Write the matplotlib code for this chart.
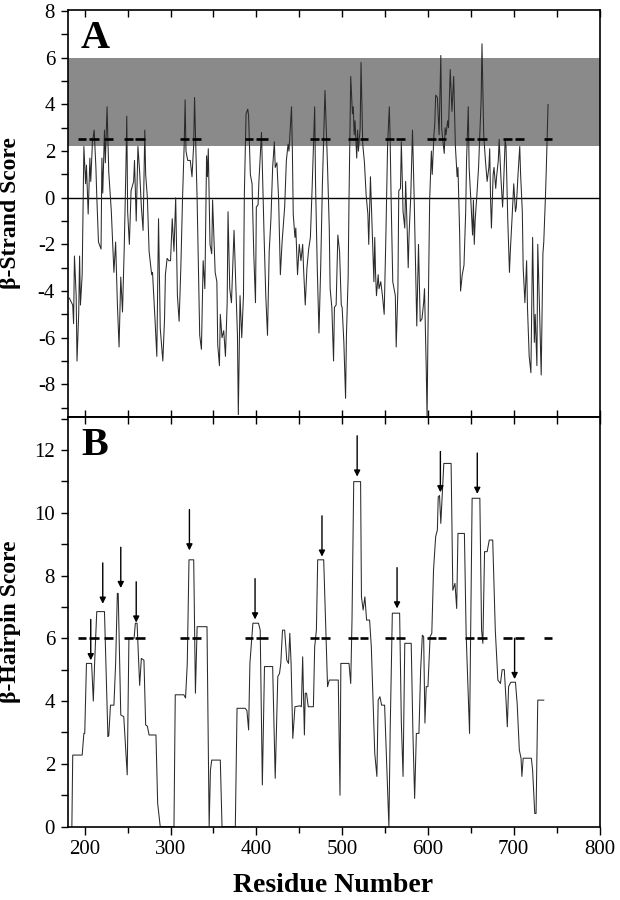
import matplotlib
matplotlib.use("Agg")
import matplotlib.pyplot as plt
from matplotlib.ticker import MultipleLocator

plt.rcParams['font.family'] = ['Liberation Serif', 'DejaVu Serif']
plt.rcParams['axes.unicode_minus'] = False

# panel A: beta-strand score per residue
strand_res = [182, 186, 187, 188, 190, 191, 193, 194, 195, 197, 199, 201, 202, 204, 206, 207, 209, 211,
              213, 214, 216, 219, 220, 221, 223, 224, 226, 228, 231, 234, 236, 238, 240, 242, 244, 246,
              248, 249, 250, 252, 254, 257, 258, 260, 262, 264, 266, 268, 270, 271, 273, 275, 278, 279,
              282, 284, 286, 288, 291, 293, 294, 296, 298, 300, 302, 304, 306, 308, 310, 312, 314, 316,
              317, 318, 320, 323, 325, 327, 328, 331, 334, 336, 338, 340, 342, 343, 344, 346, 348, 349,
              352, 354, 355, 357, 358, 360, 362, 364, 366, 367, 369, 371, 374, 376, 378, 379, 381, 383,
              385, 386, 388, 390, 391, 393, 395, 397, 399, 400, 402, 403, 406, 407, 409, 411, 413, 415,
              417, 419, 421, 422, 424, 426, 428, 430, 433, 435, 437, 438, 441, 442, 443, 445, 446, 448,
              450, 452, 454, 455, 457, 459, 461, 463, 465, 466, 468, 469, 471, 473, 475, 477, 479, 480,
              483, 485, 486, 488, 490, 491, 493, 495, 497, 499, 500, 502, 504, 505, 507, 508, 509, 510,
              512, 513, 514, 515, 517, 518, 519, 521, 522, 524, 526, 528, 530, 531, 533, 535, 537, 538,
              539, 540, 542, 543, 545, 547, 549, 551, 553, 555, 556, 557, 559, 562, 563, 565, 566, 568,
              569, 571, 573, 574, 576, 577, 578, 580, 582, 584, 586, 587, 589, 591, 593, 595, 596, 598,
              599, 600, 602, 604, 605, 607, 608, 609, 611, 613, 615, 616, 617, 619, 620, 621, 623, 624,
              626, 628, 630, 632, 634, 635, 637, 638, 640, 642, 644, 645, 647, 648, 650, 652, 653, 654,
              655, 657, 659, 660, 662, 663, 665, 667, 669, 671, 672, 673, 674, 676, 677, 679, 680, 682,
              683, 685, 687, 688, 690, 691, 693, 695, 696, 698, 700, 702, 703, 705, 707, 708, 710, 711,
              713, 715, 716, 718, 720, 722, 724, 725, 727, 728, 730, 732, 734, 735, 737, 738, 740]
strand_score = [-4.3, -4.6, -5.4, -2.5, -4.2, -7.0, -4.9, -2.5, -4.6, -3.3, 2.2, 0.6, 1.4, -0.7, 1.7, 0.7, 2.4, 2.9,
                1.3, 0.1, -1.9, -2.2, 1.7, 0.2, 2.9, 1.5, 3.9, 1.1, -0.6, -3.2, -1.9, -4.5, -6.4, -3.4, -4.9, -2.2,
                1.3, 3.5, -0.6, -2.0, 0.3, 0.7, 1.6, -1.0, 2.2, 1.1, -0.4, -1.4, 2.9, 1.0, 0.0, -2.3, -3.3, -3.2,
                -5.3, -6.8, -0.9, -5.6, -7.0, -5.2, -3.3, -2.6, -2.7, -2.7, -0.9, -2.3, 0.0, -4.2, -5.3, -3.0, 0.0, 2.4,
                4.2, 2.0, 1.6, 1.6, 0.9, 2.3, 4.3, -0.1, -5.9, -6.5, -2.7, -3.9, 1.8, 0.9, 2.1, -2.0, -2.4, -0.1,
                -3.2, -3.6, -6.3, -7.2, -5.0, -6.0, -5.7, -6.8, -4.5, -0.6, -3.9, -4.5, -1.4, -3.7, -5.9, -9.3, -4.2, -6.0,
                -4.2, 0.1, 3.6, 3.8, 3.5, 1.0, 0.6, -2.4, -4.5, -0.4, -0.3, 0.7, 2.8, 1.3, -1.6, -4.2, -5.9, -2.3,
                -0.9, 1.3, 2.4, 1.3, 1.5, -0.1, -3.3, -1.9, -0.4, 1.6, 2.3, 2.0, 3.9, 2.0, -0.7, -1.7, -1.3, -3.3,
                -2.0, -2.7, -2.0, -3.0, -4.6, -3.0, -2.2, -1.7, 0.4, 1.6, 3.9, 0.6, -3.0, -5.8, -3.0, 0.6, 3.3, 4.6,
                1.3, -1.3, -3.9, -4.7, -7.0, -4.7, -4.6, -1.6, -2.3, -4.6, -4.7, -6.2, -8.6, -5.9, -3.4, -0.1, 2.7, 5.2,
                3.6, 3.9, 2.7, 3.3, 1.7, 2.9, 2.0, 3.0, 5.8, 2.3, 1.5, 0.1, -0.7, -2.0, 0.9, -1.3, -3.6, -1.7,
                -3.3, -4.2, -3.3, -3.9, -3.6, -4.2, -5.0, -1.6, 2.3, 3.9, 2.4, 0.1, -3.6, -4.2, -6.4, -3.9, 0.3, 0.4,
                2.4, -0.6, -1.3, 0.7, -1.6, -3.0, -1.6, 0.1, 2.9, -0.1, -3.7, -5.5, -2.0, -5.3, -5.2, -4.5, -3.9, -7.3,
                -9.4, -5.9, -0.1, 2.0, 1.0, 2.7, 3.2, 4.4, 4.3, 2.7, 6.1, 3.0, 2.6, 1.9, 3.0, 2.7, 3.3, 3.0,
                5.5, 3.7, 5.2, 2.2, 0.9, 1.3, -1.6, -4.0, -3.3, -2.9, -0.6, 1.6, 3.9, 1.3, -0.1, -1.6, -0.1, -2.0,
                -1.0, 0.1, 1.3, 2.3, 4.2, 6.6, 2.7, 1.6, 0.7, 1.3, 2.1, -0.1, -1.3, 1.0, 1.3, 0.4, 0.9, 1.6,
                2.5, 0.9, -0.4, 0.4, 2.5, 2.2, -0.9, -3.2, -2.3, -0.9, 0.6, -0.6, -0.4, 1.0, 2.2, 1.0, -0.6, -3.0,
                -4.5, -2.7, -4.7, -6.8, -7.5, -1.7, -6.2, -5.0, -7.2, -2.0, -4.7, -7.6, -2.4, -1.9, 0.1, 1.3, 4.0]

# panel B: beta-hairpin score per residue
hairpin_res = [185, 186, 197, 199, 200, 202, 208, 210, 211.5, 214, 223, 227, 228, 230, 234, 236, 238, 239,
               242, 245.5, 249.5, 251.5, 257.5, 259, 261, 264, 266, 269, 271, 273, 275, 283, 285, 288,
               304, 305.5, 315.5, 317.5, 319.5, 321.5, 327, 329, 331, 342.5, 345, 346.5, 348, 358, 360,
               375.5, 377.5, 387, 389, 391, 392.5, 396, 402.5, 404.5, 407, 409.5, 419, 422, 425, 427,
               428.5, 430.5, 433, 435.5, 437.5, 439, 440.5, 442.5, 445, 451, 452.5, 454, 456, 457, 458.5,
               460.5, 466.5, 468, 470, 471.5, 478.5, 481, 483, 485, 495.5, 497.5, 498.5, 508, 510, 511.5,
               513.5, 521.5, 522.5, 524.5, 526.5, 528.5, 532, 534, 538, 540.5, 542, 544, 546, 549.5, 554.5,
               556, 558.5, 567, 569, 571, 573, 580.5, 582.5, 584.5, 586.5, 589.5, 591.5, 593.5, 595, 596.5,
               598, 600, 602.5, 604.5, 606.5, 609, 611, 612, 613.5, 615, 616.5, 618.5, 627, 629, 631.5,
               633.5, 635, 642.5, 644.5, 648.5, 651.5, 660.5, 662.5, 664, 666, 669, 671.5, 675.5, 678.5,
               681.5, 684.5, 686.5, 689, 691, 692.5, 694, 696.5, 702, 704, 706.5, 708.5, 709.5, 711, 720.5,
               722, 724.5, 726, 728, 735]
hairpin_score = [0, 2.28, 2.28, 2.97, 2.97, 5.2, 5.2, 4.0, 5.2, 6.85, 6.85, 2.87, 2.9, 3.87, 3.87, 5.2, 7.43, 7.43,
                 3.56, 3.5, 1.65, 6.0, 6.0, 6.48, 6.48, 4.5, 5.36, 5.3, 3.24, 3.2, 2.92, 2.92, 0.74, 0,
                 0, 4.2, 4.2, 4.1, 5.2, 8.5, 8.5, 4.25, 6.37, 6.37, 0, 1.8, 2.12, 2.12, 0,
                 0, 3.77, 3.77, 3.7, 3.08, 5.2, 6.48, 6.48, 6.26, 1.33, 5.1, 5.1, 1.54, 4.78, 4.88,
                 5.2, 6.26, 6.26, 5.3, 5.2, 6.16, 5.2, 2.81, 3.82, 3.85, 3.82, 5.41, 2.92, 4.25, 4.25,
                 3.82, 3.82, 5.73, 6.26, 8.5, 8.5, 6.26, 4.46, 4.67, 4.67, 1.0, 5.2, 5.2, 4.56, 6.58,
                 10.99, 10.99, 7.32, 6.9, 7.32, 6.58, 6.58, 5.73, 2.34, 1.6, 4.03, 4.14, 3.87, 3.87, 0,
                 3.08, 6.8, 6.8, 3.3, 1.6, 5.84, 5.84, 2.97, 0.9, 2.97, 2.97, 5.0, 6.1, 6.05, 3.3,
                 4.46, 4.46, 6.05, 6.16, 8.17, 9.24, 9.45, 10.5, 10.55, 9.66, 10.5, 11.57, 11.57, 7.53, 7.75,
                 6.95, 9.34, 9.34, 6.16, 2.97, 10.46, 10.46, 6.26, 5.84, 8.76, 8.76, 9.13, 9.13, 6.26,
                 4.67, 4.56, 5.0, 5.0, 4.03, 3.18, 4.46, 4.6, 4.6, 3.92, 2.44, 2.18, 1.6, 2.18, 2.18,
                 1.8, 0.42, 0.42, 4.03, 4.03]

# predicted strand segments (drawn as dashes on the threshold)
seg_start = [192, 205, 222, 246, 258.5, 311.5, 325, 387, 400, 462.5, 475, 507, 520.5,
             549.5, 563, 599, 611.5, 643, 657, 687, 702, 735]
seg_end = [202, 216.5, 233, 256.5, 270, 322, 336, 396.5, 414, 473, 485.5, 518.5, 530,
           561, 573, 609.5, 621, 653.5, 669, 698, 712.5, 745]
strand_cut = 2.5
hairpin_cut = 6.0

# hairpin arrows: residue and arrow-tip height
arrow_res = [207, 221, 242, 260, 322, 398.5, 476.5, 517.5, 564, 614.5, 657.5, 701]
arrow_tip = [5.3, 7.1, 7.6, 6.5, 8.8, 6.6, 8.6, 11.15, 6.95, 10.65, 10.6, 4.7]

fig = plt.figure(figsize=(6.2, 9), dpi=100)
ax1 = fig.add_axes([0.109, 0.5367, 0.858, 0.4522])
ax2 = fig.add_axes([0.109, 0.0815, 0.858, 0.4552])

line_col = '#2a2a2a'

# --- panel A
ax1.axhspan(2.2, 6.0, color='#8a8a8a', lw=0, zorder=0)
ax1.axhline(0, color='k', lw=1.0, zorder=1)
ax1.plot(strand_res, strand_score, color=line_col, lw=0.75, zorder=2)
ax1.hlines([strand_cut] * len(seg_start), seg_start, seg_end, color='k', lw=1.9, zorder=3)
ax1.set_xlim(180, 800)
ax1.set_ylim(-9.4, 8.05)
ax1.yaxis.set_major_locator(MultipleLocator(2))
ax1.yaxis.set_minor_locator(MultipleLocator(1))
ax1.xaxis.set_major_locator(MultipleLocator(100))
ax1.xaxis.set_minor_locator(MultipleLocator(50))
ax1.tick_params(axis='x', which='both', direction='in', top=True, bottom=True,
                labelbottom=False, length=5, width=1)
ax1.tick_params(axis='y', which='major', direction='out', length=5, width=1, labelsize=15, pad=4)
ax1.tick_params(axis='y', which='minor', direction='out', length=5, width=1)
ax1.set_ylabel('β-Strand Score', fontsize=17, fontweight='bold')
ax1.yaxis.set_label_coords(-0.088, 0.5)
ax1.text(0.025, 0.975, 'A', transform=ax1.transAxes, fontsize=29, fontweight='bold',
         va='top', ha='left')

# --- panel B
ax2.plot(hairpin_res, hairpin_score, color=line_col, lw=0.75, zorder=2)
ax2.hlines([hairpin_cut] * len(seg_start), seg_start, seg_end, color='k', lw=1.9, zorder=3)
for r, t in zip(arrow_res, arrow_tip):
    ax2.annotate('', xy=(r, t), xytext=(r, t + 1.3),
                 arrowprops=dict(arrowstyle='-|>', color='k', lw=1.0,
                                 mutation_scale=9, shrinkA=0, shrinkB=0))
ax2.set_xlim(180, 800)
ax2.set_ylim(0, 13.05)
ax2.yaxis.set_major_locator(MultipleLocator(2))
ax2.yaxis.set_minor_locator(MultipleLocator(1))
ax2.xaxis.set_major_locator(MultipleLocator(100))
ax2.xaxis.set_minor_locator(MultipleLocator(50))
ax2.tick_params(axis='x', which='major', direction='out', length=6, width=1, labelsize=15)
ax2.tick_params(axis='x', which='minor', direction='out', length=4, width=1)
ax2.tick_params(axis='y', which='major', direction='out', length=5, width=1, labelsize=15, pad=4)
ax2.tick_params(axis='y', which='minor', direction='out', length=5, width=1)
top = ax2.secondary_xaxis('top')
top.xaxis.set_major_locator(MultipleLocator(50))
top.tick_params(direction='in', length=5, width=1, labeltop=False)
ax2.set_ylabel('β-Hairpin Score', fontsize=17, fontweight='bold')
ax2.yaxis.set_label_coords(-0.088, 0.5)
ax2.set_xlabel('Residue Number', fontsize=20, fontweight='bold', labelpad=10)
ax2.text(0.025, 0.975, 'B', transform=ax2.transAxes, fontsize=29, fontweight='bold',
         va='top', ha='left')

for ax in (ax1, ax2, top):
    for s in ax.spines.values():
        s.set_linewidth(1.2)

fig.savefig('out.png', dpi=100)
